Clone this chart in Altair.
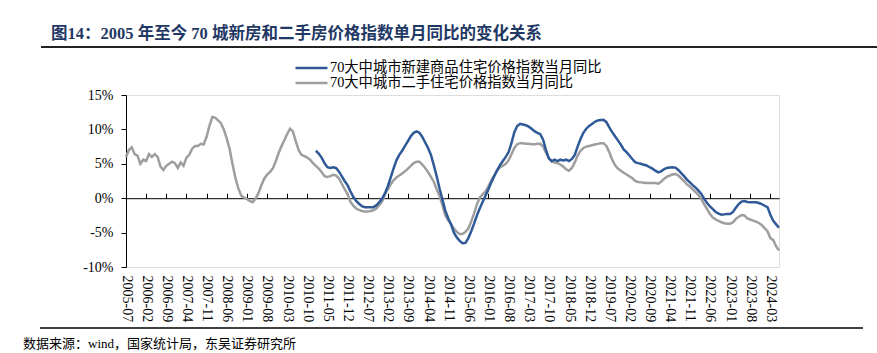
import json
import altair as alt
import pandas as pd

# ---------------- data ----------------
START_YEAR, START_MONTH = 2005, 7   # first month of the series (index 0)

series_names = ["70大中城市新建商品住宅价格指数当月同比", "70大中城市二手住宅价格指数当月同比"]
series_colors = ["#2F5A97", "#9E9E9E"]

# second-hand homes, YoY %, monthly from 2005-07
gray_vals = [
    6.0, 7.0, 7.4, 6.4, 6.2, 5.0, 5.6, 5.4, 6.4, 6.0, 6.4, 6.0,
    4.6, 4.1, 4.7, 5.0, 5.3, 5.1, 4.4, 5.2, 4.7, 5.9, 6.3, 7.2,
    7.6, 7.6, 7.9, 7.8, 8.9, 10.5, 11.8, 11.7, 11.3, 10.9, 10.0, 8.7,
    7.2, 5.0, 3.0, 1.5, 0.4, 0.1, -0.1, -0.4, -0.6, -0.1, 0.7, 1.8,
    2.8, 3.4, 3.8, 4.3, 5.3, 6.5, 7.5, 8.4, 9.3, 10.1, 9.7, 8.3,
    7.0, 6.3, 6.1, 5.9, 5.6, 5.1, 4.7, 4.3, 3.8, 3.2, 3.1, 3.2,
    3.4, 3.3, 2.9, 2.1, 1.3, 0.6, -0.5, -1.1, -1.5, -1.7, -1.85, -1.95,
    -1.95, -1.85, -1.75, -1.5, -1.0, -0.5, 0.5, 1.3, 2.0, 2.6, 3.0, 3.3,
    3.6, 3.9, 4.3, 4.7, 5.1, 5.3, 5.3, 4.9, 4.4, 3.8, 3.1, 2.4,
    1.3, 0.3, -1.0, -2.5, -3.2, -3.8, -4.4, -4.9, -5.2, -5.2, -4.9, -4.4,
    -3.4, -2.2, -0.9, 0.1, 0.55, 1.0, 1.75, 2.6, 3.3, 4.1, 4.5, 4.7,
    5.0, 5.5, 6.4, 7.3, 7.85, 8.0, 8.0, 7.9, 7.9, 7.85, 7.85, 7.9,
    7.9, 7.5, 6.6, 5.8, 5.3, 5.2, 5.1, 4.9, 4.6, 4.2, 4.0, 4.4,
    5.2, 6.2, 6.9, 7.3, 7.5, 7.6, 7.7, 7.8, 7.9, 8.0, 8.0, 7.6,
    6.7, 5.6, 4.8, 4.3, 4.0, 3.7, 3.45, 3.2, 2.9, 2.5, 2.35, 2.3,
    2.25, 2.2, 2.2, 2.2, 2.2, 2.1, 2.4, 2.8, 3.1, 3.3, 3.45, 3.5,
    3.3, 2.9, 2.5, 2.0, 1.7, 1.3, 0.9, 0.45, -0.15, -0.9, -1.6, -2.3,
    -2.8, -3.1, -3.3, -3.5, -3.65, -3.7, -3.7, -3.5, -3.0, -2.7, -2.45, -2.5,
    -2.95, -3.1, -3.25, -3.4, -3.6, -3.9, -4.35, -4.8, -5.8, -6.1, -7.0, -7.6,
]

# new homes, YoY %, monthly from 2011-01 (index 66)
BLUE_START = 66
blue_vals = [
    6.9, 6.5, 5.9, 5.1, 4.5, 4.4, 4.5, 4.4, 3.9, 3.2, 2.5, 1.9,
    1.0, 0.2, -0.4, -0.8, -1.15, -1.3, -1.3, -1.3, -1.3, -1.05, -0.6, -0.1,
    0.7, 1.7, 3.0, 4.3, 5.5, 6.3, 6.9, 7.6, 8.3, 9.0, 9.5, 9.7,
    9.5, 8.9, 8.1, 7.3, 6.3, 4.8, 3.2, 1.4, -0.2, -1.8, -2.9, -3.8,
    -5.0, -5.7, -6.2, -6.55, -6.5, -5.8, -4.8, -3.7, -2.5, -1.45, -0.5, 0.4,
    1.3, 2.3, 3.2, 4.0, 4.8, 5.4, 6.0, 6.7, 8.0, 9.6, 10.5, 10.8,
    10.7, 10.6, 10.4, 10.1, 9.75, 9.5, 9.3, 8.5, 7.0, 5.8, 5.4, 5.6,
    5.4, 5.6, 5.5, 5.6, 5.4, 5.7, 6.3, 7.5, 8.6, 9.5, 10.1, 10.5,
    10.8, 11.1, 11.3, 11.35, 11.4, 11.05, 10.3, 9.6, 9.0, 8.4, 7.8, 7.1,
    6.7, 6.2, 5.7, 5.25, 5.1, 5.0, 4.85, 4.75, 4.5, 4.3, 4.0, 3.75,
    3.9, 4.2, 4.4, 4.45, 4.5, 4.45, 4.1, 3.65, 3.2, 2.7, 2.3, 1.9,
    1.55, 1.1, 0.6, -0.1, -0.7, -1.2, -1.6, -2.0, -2.25, -2.4, -2.35, -2.3,
    -2.3, -2.0, -1.4, -0.85, -0.5, -0.4, -0.55, -0.6, -0.6, -0.6, -0.7, -0.85,
    -1.1, -1.3, -2.4, -3.3, -3.8, -4.3,
]

y_ticks = [-10, -5, 0, 5, 10, 15]
TICK_STEP = 7


def month_label(i):
    t = START_MONTH - 1 + i
    return f"{START_YEAR + t // 12}-{t % 12 + 1:02d}"


tick_idx = list(range(0, len(gray_vals) - 2, TICK_STEP))
tick_labels = [month_label(i) for i in tick_idx]

title_text = "图14：2005 年至今 70 城新房和二手房价格指数单月同比的变化关系"
source_text = "数据来源：wind，国家统计局，东吴证券研究所"

rows = []
for i, v in enumerate(gray_vals):
    rows.append({"m": i, "month": month_label(i), "v": v, "series": series_names[1]})
for j, v in enumerate(blue_vals):
    i = BLUE_START + j
    rows.append({"m": i, "month": month_label(i), "v": v, "series": series_names[0]})
df = pd.DataFrame(rows)

# ---------------- chart ----------------
SERIF = "Liberation Serif, Noto Sans CJK SC"
W, H = 653, 172

xscale = alt.Scale(domain=[0, len(gray_vals) - 1], nice=False, zero=False)
yscale = alt.Scale(domain=[-10, 15], nice=False, zero=False)

label_expr = json.dumps(tick_labels) + f"[round(datum.value/{TICK_STEP})]"

yaxis = alt.Axis(
    values=y_ticks, labelExpr="datum.value + '%'", grid=False, title=None,
    domainColor="black", tickColor="black", tickSize=5, labelPadding=8,
    labelFont=SERIF, labelFontSize=14, labelColor="black")

lines = alt.Chart(df).mark_line(strokeWidth=2.5).encode(
    x=alt.X("m:Q", scale=xscale, axis=alt.Axis(
        orient="bottom", values=tick_idx, labelExpr=label_expr, labelAngle=90,
        domain=False, ticks=False, grid=False, title=None, labelOverlap=False,
        labelPadding=8, labelFont=SERIF, labelFontSize=14, labelColor="black")),
    y=alt.Y("v:Q", scale=yscale, axis=yaxis),
    color=alt.Color("series:N", scale=alt.Scale(domain=series_names, range=series_colors),
                    legend=alt.Legend(
                        orient="none", legendX=168, legendY=-33, title=None,
                        symbolType="stroke", symbolSize=1024, symbolStrokeWidth=2.5,
                        labelFont=SERIF, labelFontSize=14.3, labelColor="black",
                        clipHeight=12, rowPadding=0, labelOffset=1, padding=0,
                        labelLimit=400)),
)

zero_axis = alt.Chart(df).mark_point(opacity=0).encode(
    x=alt.X("m:Q", scale=xscale, axis=alt.Axis(
        orient="top", offset=-H * 15 / 25, values=tick_idx, labels=False,
        domainColor="black", tickColor="black", tickSize=5, grid=False, title=None)),
    y=alt.Y("v:Q", scale=yscale, axis=yaxis),
)

title_layer = alt.Chart(pd.DataFrame({"t": [title_text]})).mark_text(
    align="left", baseline="middle", font=SERIF, fontSize=16.5, fontWeight="bold",
    color="#1F3864").encode(text="t:N", x=alt.value(-75), y=alt.value(-61))

source_layer = alt.Chart(pd.DataFrame({"t": [source_text]})).mark_text(
    align="left", baseline="top", font=SERIF, fontSize=13, color="black"
).encode(text="t:N", x=alt.value(-103), y=alt.value(243))

top_rule = alt.Chart(pd.DataFrame({"k": [0]})).mark_rule(color="#222222", strokeWidth=2).encode(
    x=alt.value(-85), x2=alt.value(751), y=alt.value(-48))
bottom_rule = alt.Chart(pd.DataFrame({"k": [0]})).mark_rule(color="black", strokeWidth=1.5).encode(
    x=alt.value(-86), x2=alt.value(737), y=alt.value(233))

chart = alt.layer(
    zero_axis, lines, title_layer, source_layer, top_rule, bottom_rule
).resolve_axis(x="independent").properties(
    width=W, height=H,
    autosize=alt.AutoSizeParams(type="none"),
    padding={"left": 126, "top": 95, "right": 877 - 126 - W, "bottom": 353 - 95 - H},
).configure_view(stroke=None).configure(background="white")

chart.save("out.html", embed_options={"renderer": "svg", "actions": False})
